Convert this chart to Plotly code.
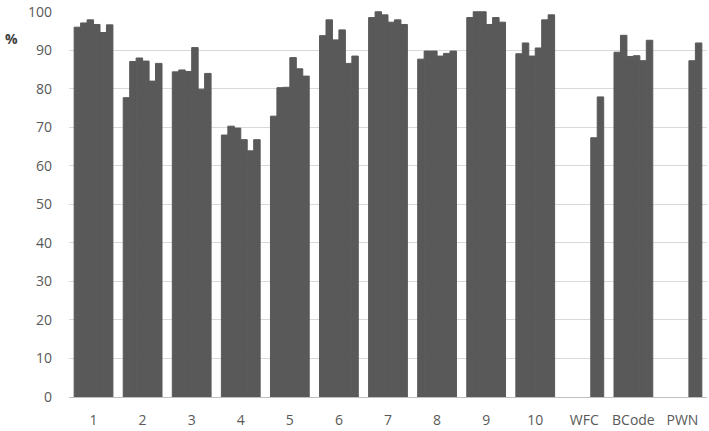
import plotly.graph_objects as go

categorias = ["1", "2", "3", "4", "5", "6", "7", "8", "9", "10", "WFC", "BCode", "PWN"]

# one list per bar position inside each group (None = no bar)
serie1 = [96.0, 77.7, 84.4, 68.0, 72.9, 93.8, 98.5, 87.7, 98.5, 89.1, None, 89.5, None]
serie2 = [97.1, 87.1, 84.9, 70.3, 80.3, 97.9, 100.0, 89.8, 100.0, 91.9, None, 93.9, None]
serie3 = [97.9, 88.0, 84.5, 69.8, 80.4, 92.7, 99.2, 89.8, 100.0, 88.5, None, 88.4, None]
serie4 = [96.7, 87.2, 90.7, 66.8, 88.1, 95.3, 97.3, 88.5, 96.7, 90.6, None, 88.6, None]
serie5 = [94.6, 82.0, 79.9, 63.9, 85.2, 86.6, 97.9, 89.2, 98.5, 97.9, 67.3, 87.3, 87.3]
serie6 = [96.6, 86.6, 84.0, 66.8, 83.3, 88.5, 96.7, 89.8, 97.3, 99.2, 77.9, 92.6, 91.9]

series = [serie1, serie2, serie3, serie4, serie5, serie6]

cor_barra = "#595959"
cor_texto = "#595959"

fig = go.Figure()
for i, valores in enumerate(series):
    fig.add_trace(go.Bar(
        x=categorias,
        y=valores,
        name=f"s{i + 1}",
        # contorno da mesma cor para não aparecer fresta entre barras
        marker=dict(color=cor_barra, line=dict(width=1, color=cor_barra)),
        showlegend=False,
    ))

fig.update_layout(
    width=709,
    height=431,
    barmode="group",
    bargap=0.21,
    bargroupgap=0,
    plot_bgcolor="white",
    paper_bgcolor="white",
    margin=dict(l=69, r=2, t=7, b=34),
    font=dict(family="Open Sans, sans-serif", size=14, color=cor_texto),
    xaxis=dict(
        showgrid=False,
        showline=True,
        linecolor="#bfbfbf",
        linewidth=1,
        ticks="",
        ticklabelstandoff=10,
        tickfont=dict(size=14, color=cor_texto),
    ),
    yaxis=dict(
        range=[0, 100.2],
        tick0=0,
        dtick=10,
        showgrid=True,
        gridcolor="#d9d9d9",
        gridwidth=1,
        zeroline=False,
        showline=False,
        ticks="",
        ticklabelstandoff=16,
        ticklabeloverflow="allow",
        tickfont=dict(size=14, color=cor_texto),
    ),
    annotations=[dict(
        text="<b>%</b>",
        xref="paper", yref="paper",
        x=-0.104, y=0.928,
        xanchor="left", yanchor="middle",
        showarrow=False,
        font=dict(size=14, color="#404040"),
    )],
)

# sem margem do body para a figura ocupar a janela toda
fig.write_html(
    "out.html",
    config={"displayModeBar": False},
    post_script="document.body.style.margin='0';",
)
